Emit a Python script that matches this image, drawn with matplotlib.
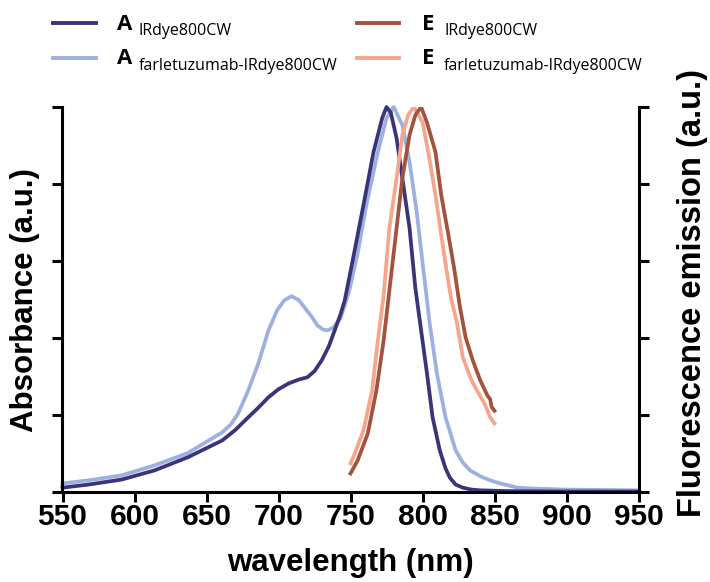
import matplotlib
matplotlib.use("Agg")
from matplotlib import pyplot as plt
from matplotlib.lines import Line2D

# absorbance, free dye
a_dye_nm = [550, 568, 591, 614, 637, 661, 670, 679, 686, 693, 700, 707, 714, 720,
            725, 730, 735, 739, 743, 746, 752, 759, 766, 772, 775, 778, 782, 786,
            791, 795, 799, 803, 807, 812, 816, 819, 823, 828, 834, 840, 860, 900, 950]
a_dye = [0.010, 0.018, 0.031, 0.055, 0.089, 0.133, 0.160, 0.193, 0.218, 0.245,
         0.266, 0.281, 0.291, 0.297, 0.313, 0.341, 0.378, 0.419, 0.460, 0.497, 0.61,
         0.745, 0.883, 0.971, 1.0, 0.985, 0.919, 0.815, 0.685, 0.53, 0.42, 0.31,
         0.193, 0.107, 0.060, 0.036, 0.018, 0.010, 0.005, 0.003, 0.001, 0.0, 0.0]

# absorbance, conjugate
a_conj_nm = [550, 568, 591, 614, 637, 661, 667, 672, 679, 686, 693, 699, 704, 709,
             714, 718, 723, 727, 731, 734, 738, 743, 749, 755, 761, 769, 775, 780,
             786, 791, 796, 800, 805, 810, 816, 823, 828, 833, 840, 847, 854, 866,
             875, 898, 950]
a_conj = [0.021, 0.029, 0.042, 0.068, 0.10, 0.154, 0.175, 0.203, 0.263, 0.333,
          0.419, 0.471, 0.497, 0.508, 0.498, 0.479, 0.455, 0.432, 0.421, 0.419,
          0.426, 0.45, 0.52, 0.62, 0.745, 0.883, 0.971, 1.0, 0.953, 0.857, 0.727,
          0.596, 0.437, 0.307, 0.193, 0.107, 0.075, 0.055, 0.040, 0.029, 0.021,
          0.010, 0.008, 0.005, 0.003]

# emission, free dye
e_dye_nm = [750, 755, 762, 768, 773, 777, 782, 786, 791, 795, 799, 803, 809, 813,
            818, 822, 826, 830, 835, 840, 845, 847, 848, 850]
e_dye = [0.047, 0.081, 0.151, 0.263, 0.393, 0.523, 0.685, 0.815, 0.927, 0.979, 1.0,
         0.961, 0.883, 0.771, 0.667, 0.58, 0.48, 0.40, 0.34, 0.29, 0.25, 0.24, 0.22,
         0.21]

# emission, conjugate
e_conj_nm = [750, 753, 759, 765, 769, 773, 777, 782, 786, 790, 794, 800, 804, 809,
             813, 818, 820, 824, 828, 834, 839, 843, 847, 850]
e_conj = [0.073, 0.099, 0.159, 0.263, 0.393, 0.51, 0.685, 0.815, 0.927, 0.979, 1.0,
          0.961, 0.883, 0.771, 0.667, 0.544, 0.50, 0.437, 0.349, 0.289, 0.255, 0.229,
          0.193, 0.177]

x_ticks = [550, 600, 650, 700, 750, 800, 850, 900, 950]
y_ticks = [0, 0.2, 0.4, 0.6, 0.8, 1.0]

c_navy = "#3b3478"
c_blue = "#9db0df"
c_brown = "#a3523e"
c_salmon = "#f5a68c"

plt.rcParams["font.family"] = ["Liberation Sans", "DejaVu Sans"]

W, H = 710, 582
fig = plt.figure(figsize=(W / 100, H / 100), dpi=100)
ax = fig.add_axes([62.5 / W, 1 - 491.5 / H, 576 / W, 384.5 / H])

lw = 2.7
ax.plot(a_conj_nm, a_conj, c=c_blue, lw=lw, clip_on=False, solid_joinstyle="round")
ax.plot(a_dye_nm, a_dye, c=c_navy, lw=lw, clip_on=False, solid_joinstyle="round")
ax.plot(e_conj_nm, e_conj, c=c_salmon, lw=lw, solid_joinstyle="round")
ax.plot(e_dye_nm, e_dye, c=c_brown, lw=lw, solid_joinstyle="round")

ax.set_xlim(550, 950)
ax.set_ylim(0, 1.0)
ax.set_xticks(x_ticks)
ax.set_yticks(y_ticks)
ax.set_xticklabels([str(t) for t in x_ticks], fontweight="bold", fontsize=21.5)

ax.spines["top"].set_visible(False)
for s in ["left", "right", "bottom"]:
    ax.spines[s].set_linewidth(2.2)
ax.tick_params(axis="both", direction="out", length=7.5, width=2.2)
ax.tick_params(axis="y", left=True, right=True, labelleft=False, labelright=False)
ax.tick_params(axis="x", pad=1)

# axis titles
fig.text(350 / W, 1 - 563 / H, "wavelength (nm)", ha="center", va="center",
         fontsize=22.5, fontweight="bold")
fig.text(25 / W, 1 - 300 / H, "Absorbance (a.u.)", ha="center", va="center",
         rotation=90, fontsize=22.5, fontweight="bold")
fig.text(692 / W, 1 - 293 / H, "Fluorescence emission (a.u.)", ha="center",
         va="center", rotation=90, fontsize=23.5, fontweight="bold")

# legend, drawn by hand
legend_rows = [
    (53, 96, 23, c_navy, 117, "A", "IRdye800CW"),
    (53, 96, 58, c_blue, 117, "A", "farletuzumab-IRdye800CW"),
    (357, 399, 23, c_brown, 422, "E", "IRdye800CW"),
    (357, 399, 58, c_salmon, 422, "E", "farletuzumab-IRdye800CW"),
]
for x0, x1, yl, col, xt, big, sub in legend_rows:
    fig.add_artist(Line2D([x0 / W, x1 / W], [1 - yl / H, 1 - yl / H],
                          color=col, lw=2.8, transform=fig.transFigure))
    fig.text(xt / W, 1 - (yl + 6.5) / H, big, ha="left", va="baseline",
             fontsize=16, fontweight="bold", family=["Open Sans", "DejaVu Sans"])
    fig.text((xt + 22) / W, 1 - (yl + 12) / H, sub, ha="left", va="baseline",
             fontsize=11.5, family=["Open Sans", "DejaVu Sans"])

fig.savefig("out.png", dpi=100)
